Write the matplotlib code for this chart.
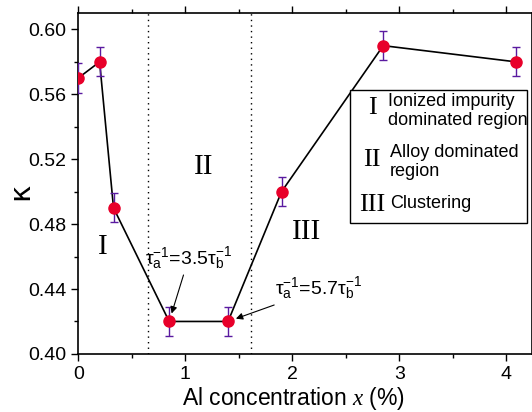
import matplotlib
matplotlib.use("Agg")
import matplotlib.pyplot as plt
from matplotlib.patches import Rectangle
from matplotlib.ticker import MultipleLocator

plt.rcParams["font.family"] = ["Liberation Sans", "DejaVu Sans"]
plt.rcParams["mathtext.fontset"] = "custom"
plt.rcParams["mathtext.rm"] = "Liberation Sans"
plt.rcParams["mathtext.it"] = "Liberation Serif:italic"

al_conc = [0.0, 0.2, 0.33, 0.85, 1.4, 1.9, 2.85, 4.09]
kappa = [0.57, 0.58, 0.49, 0.42, 0.42, 0.50, 0.59, 0.58]
kappa_err = [0.009] * len(kappa)

region_bounds = [0.65, 1.61]
region_labels = ["I", "II", "III"]
legend_lines = [
    ("I", "Ionized impurity\ndominated region"),
    ("II", "Alloy dominated\nregion"),
    ("III", "Clustering"),
]

fig = plt.figure(figsize=(5.32, 4.12), dpi=100)
ax = fig.add_axes([0.147, 0.141, 0.853, 0.827])

ax.plot(al_conc, kappa, color="black", lw=1.2, zorder=2)
ax.errorbar(al_conc, kappa, yerr=kappa_err, fmt="none", ecolor="#5a1aa0",
            elinewidth=1.0, capsize=3, capthick=1.0, zorder=3)
ax.plot(al_conc, kappa, "o", color="#e8002a", ms=8, zorder=4)

for xb in region_bounds:
    ax.axvline(xb, color="black", ls=(0, (1, 3)), lw=1.0)

serif = "Liberation Serif"
ax.text(0.23, 0.466, region_labels[0], fontsize=21, family=serif, ha="center", va="center")
ax.text(1.17, 0.515, region_labels[1], fontsize=21, family=serif, ha="center", va="center")
ax.text(2.13, 0.475, region_labels[2], fontsize=21, family=serif, ha="center", va="center")

arrow = dict(arrowstyle="-|>", color="black", lw=0.8, mutation_scale=10,
             shrinkA=0, shrinkB=6)
ax.annotate(r"τ$_\mathrm{a}^\mathrm{-1}$=3.5τ$_\mathrm{b}^\mathrm{-1}$",
            xy=(al_conc[3], kappa[3]), xytext=(1.03, 0.4585),
            ha="center", va="center", fontsize=14, arrowprops=arrow)
ax.annotate(r"τ$_\mathrm{a}^\mathrm{-1}$=5.7τ$_\mathrm{b}^\mathrm{-1}$",
            xy=(al_conc[4], kappa[4]), xytext=(2.25, 0.440),
            ha="center", va="center", fontsize=14, arrowprops=arrow)

# legend-like box
ax.add_patch(Rectangle((0.599, 0.384), 0.39, 0.39, transform=ax.transAxes,
                       fill=True, facecolor="white", edgecolor="black",
                       lw=1.0, zorder=5))
num_y = [0.721, 0.569, 0.437]
txt_y = [0.765, 0.615, 0.44]
for (num, txt), ny, ty in zip(legend_lines, num_y, txt_y):
    ax.text(0.648, ny, num, transform=ax.transAxes,
            fontsize=19, family=serif, ha="center", va="center", zorder=6)
    ax.text(0.682 if num == "I" else 0.687, ty, txt, transform=ax.transAxes,
            fontsize=13, ha="left", va="top" if "\n" in txt else "center",
            linespacing=1.1, zorder=6)

ax.set_xlim(0, 4.24)
ax.set_ylim(0.40, 0.61)
ax.xaxis.set_major_locator(MultipleLocator(1))
ax.xaxis.set_minor_locator(MultipleLocator(0.5))
ax.yaxis.set_minor_locator(MultipleLocator(0.02))
ax.set_yticks([0.40, 0.44, 0.48, 0.52, 0.56, 0.60])
ax.set_yticklabels(["0.40", "0.44", "0.48", "0.52", "0.56", "0.60"])
ax.tick_params(which="major", length=5, width=1, labelsize=14)
ax.tick_params(which="minor", length=3, width=1)
ax.tick_params(which="both", top=True, right=True)
for s in ax.spines.values():
    s.set_linewidth(1.2)

ax.set_xlabel(r"Al concentration $x$ (%)", fontsize=16.5)
ax.xaxis.set_label_coords(0.474, -0.09)
fig.text(0.038, 0.536, "κ", fontsize=21, family="DejaVu Sans",
         rotation=90, ha="center", va="center")

fig.savefig("out.png", dpi=100)
